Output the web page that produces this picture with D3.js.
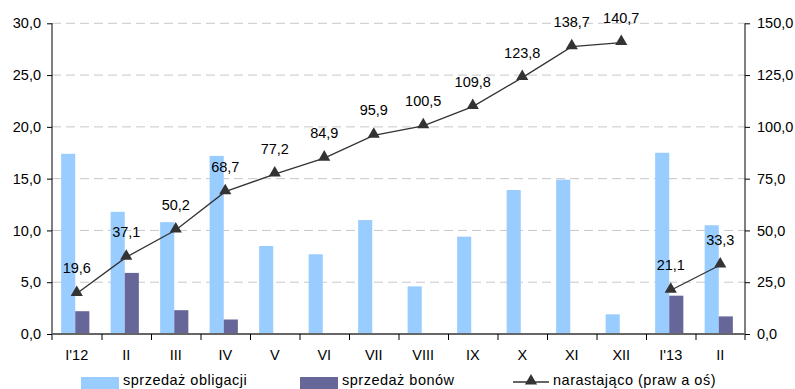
<!DOCTYPE html>
<html>
<head>
<meta charset="utf-8">
<script src="https://cdn.jsdelivr.net/npm/d3@7"></script>
<style>
  body { margin: 0; background: #fff; }
  svg { display: block; font-family: "Liberation Sans", Arial, sans-serif; }
</style>
</head>
<body>
<svg id="chart" width="795" height="389"></svg>
<script>
// Monthly sales (left axis) and cumulative total (right axis)
const categories = ["I'12", "II", "III", "IV", "V", "VI", "VII", "VIII", "IX", "X", "XI", "XII", "I'13", "II"];
const bonds      = [17.4, 11.8, 10.8, 17.2, 8.5, 7.7, 11.0, 4.6, 9.4, 13.9, 14.9, 1.9, 17.5, 10.5];
const bills      = [2.2, 5.9, 2.3, 1.4, 0, 0, 0, 0, 0, 0, 0, 0, 3.7, 1.7];
// cumulative total restarts with each year
const cumulative2012 = [19.6, 37.1, 50.2, 68.7, 77.2, 84.9, 95.9, 100.5, 109.8, 123.8, 138.7, 140.7];
const cumulative2013 = [21.1, 33.3];
const leftTicks  = [0, 5, 10, 15, 20, 25, 30];
const rightTicks = [0, 25, 50, 75, 100, 125, 150];
const seriesNames = ["sprzedaż obligacji", "sprzedaż bonów", "narastająco (praw a oś)"];

const colBonds = "#99ccff", colBills = "#666699", colLine = "#333333";

const plPL = d3.formatLocale({ decimal: ",", thousands: " ", grouping: [3], currency: ["", " zł"] });
const fmt = plPL.format(".1f");

const svg = d3.select("#chart");
const m = { left: 52, right: 745, top: 23.3, bottom: 334 };
const fontSize = 14.5;

const xIdx = d3.scaleLinear().domain([0, categories.length]).range([m.left, m.right]);
const x0 = d3.scaleBand().domain(d3.range(categories.length)).range([m.left, m.right])
  .paddingInner(0.43).paddingOuter(0.215);
const x1 = d3.scaleBand().domain(["bonds", "bills"]).range([0, x0.bandwidth()]);
const yL = d3.scaleLinear().domain([0, 30]).range([m.bottom, m.top]);
const yR = d3.scaleLinear().domain([0, 150]).range([m.bottom, m.top]);
const cx = i => xIdx(i + 0.5);

// dashed gridlines
svg.append("g").selectAll("line").data(leftTicks.slice(1)).join("line")
  .attr("x1", m.left).attr("x2", m.right)
  .attr("y1", d => yL(d)).attr("y2", d => yL(d))
  .attr("stroke", "#c8c8c8").attr("stroke-width", 1).attr("stroke-dasharray", "9,5");

// bars: one group per month, bonds then bills
const rows = categories.map((c, i) => ({ i, bonds: bonds[i], bills: bills[i] }));
const groups = svg.append("g").selectAll("g").data(rows).join("g")
  .attr("transform", d => `translate(${x0(d.i) - 1.5},0)`);
groups.append("rect")
  .attr("x", x1("bonds")).attr("width", x1.bandwidth())
  .attr("y", d => yL(d.bonds)).attr("height", d => yL(0) - yL(d.bonds))
  .attr("fill", colBonds);
groups.filter(d => d.bills > 0).append("rect")
  .attr("x", x1("bills")).attr("width", x1.bandwidth())
  .attr("y", d => yL(d.bills)).attr("height", d => yL(0) - yL(d.bills))
  .attr("fill", colBills);

// axes
const axisFont = g => g.selectAll("text").attr("font-size", fontSize)
  .attr("font-family", "Liberation Sans, Arial, sans-serif").attr("fill", "#000");

const leftAxis = svg.append("g").attr("transform", `translate(${m.left},0)`)
  .call(d3.axisLeft(yL).tickValues(leftTicks).tickFormat(fmt).tickSize(5).tickPadding(6));
leftAxis.select(".domain").attr("d", `M0,${m.top}V${m.bottom + 6}`).attr("stroke", "#000");
leftAxis.call(axisFont);

const rightAxis = svg.append("g").attr("transform", `translate(${m.right},0)`)
  .call(d3.axisRight(yR).tickValues(rightTicks).tickFormat(fmt).tickSize(5).tickPadding(7));
rightAxis.select(".domain").attr("d", `M0,${m.top}V${m.bottom + 6}`).attr("stroke", "#000");
rightAxis.call(axisFont);

// category boundaries and labels
const bottomAxis = svg.append("g").attr("transform", `translate(0,${m.bottom})`)
  .call(d3.axisBottom(xIdx).tickValues(d3.range(1, categories.length)).tickFormat("").tickSize(6));
bottomAxis.select(".domain").attr("d", `M${m.left},0H${m.right}`).attr("stroke", "#666").attr("stroke-width", 2);
bottomAxis.selectAll(".tick line").attr("stroke", "#000");

svg.append("g").selectAll("text").data(categories).join("text")
  .attr("x", (d, i) => cx(i)).attr("y", 360)
  .attr("text-anchor", "middle").attr("font-size", fontSize).text(d => d);

// cumulative lines with triangle markers and value labels
const line = d3.line().x(d => cx(d.i)).y(d => yR(d.v));
const seg2012 = cumulative2012.map((v, i) => ({ i, v }));
const seg2013 = cumulative2013.map((v, k) => ({ i: 12 + k, v }));
const tri = d3.symbol().type(d3.symbolTriangle).size(64);

[seg2012, seg2013].forEach(seg => {
  svg.append("path").datum(seg).attr("d", line)
    .attr("fill", "none").attr("stroke", colLine).attr("stroke-width", 1.3);
  svg.append("g").selectAll("path").data(seg).join("path")
    .attr("d", tri).attr("transform", d => `translate(${cx(d.i)},${yR(d.v) - 1})`)
    .attr("fill", colLine);
  svg.append("g").selectAll("text").data(seg).join("text")
    .attr("x", d => cx(d.i)).attr("y", d => yR(d.v) - 20)
    .attr("text-anchor", "middle").attr("font-size", fontSize)
    .text(d => fmt(d.v));
});

// legend
const lg = svg.append("g").attr("font-size", fontSize).attr("letter-spacing", 0.5);
lg.append("rect").attr("x", 81).attr("y", 377).attr("width", 38).attr("height", 12).attr("fill", colBonds);
lg.append("text").attr("x", 123).attr("y", 385).text(seriesNames[0]);
lg.append("rect").attr("x", 300).attr("y", 377).attr("width", 38).attr("height", 12).attr("fill", colBills);
lg.append("text").attr("x", 342).attr("y", 385).text(seriesNames[1]);
lg.append("line").attr("x1", 513).attr("x2", 549).attr("y1", 382).attr("y2", 382)
  .attr("stroke", colLine).attr("stroke-width", 1.3);
lg.append("path").attr("d", tri).attr("transform", "translate(531,381)").attr("fill", colLine);
lg.append("text").attr("x", 553).attr("y", 385).text(seriesNames[2]);
</script>
</body>
</html>
